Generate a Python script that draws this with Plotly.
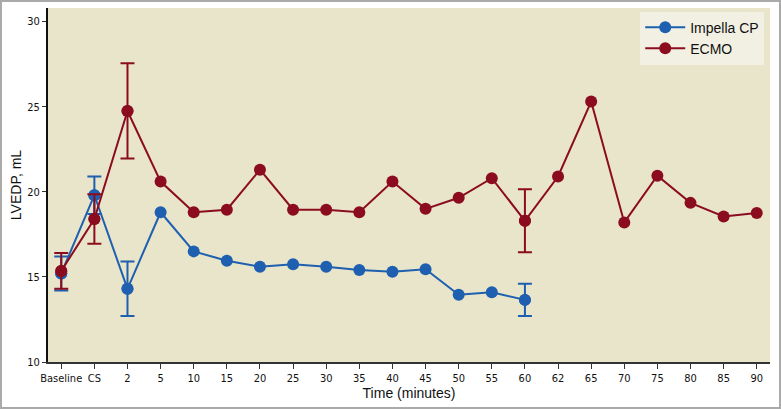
import plotly.graph_objects as go

categories = ["Baseline", "CS", "2", "5", "10", "15", "20", "25", "30", "35", "40",
              "45", "50", "55", "60", "62", "65", "70", "75", "80", "85", "90"]

impella_x = categories[:15]
impella_y = [15.2, 19.8, 14.3, 18.8, 16.5, 15.95, 15.6, 15.75, 15.6, 15.4, 15.3,
             15.45, 13.95, 14.1, 13.65]
impella_err = [1.0, 1.1, 1.6, None, None, None, None, None, None, None, None,
               None, None, None, 0.95]

ecmo_x = categories
ecmo_y = [15.35, 18.4, 24.75, 20.6, 18.8, 18.95, 21.3, 18.95, 18.95, 18.8, 20.6,
          19.0, 19.65, 20.8, 18.3, 20.9, 25.3, 18.2, 20.95, 19.35, 18.55, 18.75]
ecmo_err = [1.05, 1.45, 2.8, None, None, None, None, None, None, None, None,
            None, None, None, 1.85, None, None, None, None, None, None, None]

y_ticks = [10, 15, 20, 25, 30]

BLUE = "#1E5FB0"
RED = "#8C0C1F"
BG = "#E8E5CA"
TICK_FONT = "DejaVu Sans Condensed, sans-serif"
TEXT_FONT = "Liberation Sans, Arial, sans-serif"

fig = go.Figure()


def add_series(xs, ys, errs, name, color):
    ex = [x for x, e in zip(xs, errs) if e is not None]
    ey = [y for y, e in zip(ys, errs) if e is not None]
    ee = [e for e in errs if e is not None]
    fig.add_trace(go.Scatter(
        x=ex, y=ey, mode="markers", showlegend=False, hoverinfo="skip",
        marker=dict(color=color, size=12),
        error_y=dict(type="data", array=ee, visible=True, color=color,
                     thickness=2, width=7),
    ))
    fig.add_trace(go.Scatter(
        x=xs, y=ys, name=name, mode="lines+markers",
        line=dict(color=color, width=2), marker=dict(color=color, size=12),
    ))


add_series(impella_x, impella_y, impella_err, "Impella CP", BLUE)
add_series(ecmo_x, ecmo_y, ecmo_err, "ECMO", RED)

W, H = 781, 409
ml, mr, mt, mb = 48, 11, 8, 47
pw, ph = W - ml - mr, H - mt - mb

fig.update_layout(
    width=W, height=H,
    margin=dict(l=ml, r=mr, t=mt, b=mb, autoexpand=False),
    paper_bgcolor="white", plot_bgcolor=BG,
    showlegend=True,
    legend=dict(x=0.992, y=0.99, xanchor="right", yanchor="top",
                bgcolor="#F2F0E2", font=dict(family=TEXT_FONT, size=14, color="#111"),
                tracegroupgap=0, itemwidth=40),
    xaxis=dict(type="category", categoryorder="array", categoryarray=categories,
               range=[-0.4, 21.4], showgrid=False, zeroline=False, automargin=False,
               showline=True, linecolor="#333", linewidth=2, tickangle=0,
               ticks="outside", ticklen=5, tickcolor="#333", tickwidth=1,
               tickfont=dict(family=TICK_FONT, size=11, color="#111"),
               title=dict(text="Time (minutes)", font=dict(family=TEXT_FONT, size=14, color="#111"),
                          standoff=2)),
    yaxis=dict(range=[10, 30.8], tickvals=y_ticks, showgrid=False, zeroline=False,
               automargin=False,
               showline=True, linecolor="#111", linewidth=2,
               ticks="outside", ticklen=4, tickcolor="#333", tickwidth=1,
               tickfont=dict(family=TICK_FONT, size=11, color="#111"),
               title=dict(text="LVEDP, mL", font=dict(family=TEXT_FONT, size=14, color="#111"),
                          standoff=2)),
    shapes=[dict(type="rect", xref="paper", yref="paper",
                 x0=(-ml + 1) / pw, x1=1 + (mr - 1) / pw,
                 y0=(-mb + 1) / ph, y1=1 + (mt - 1) / ph,
                 line=dict(color="#AAAAAA", width=2), fillcolor="rgba(0,0,0,0)",
                 layer="below")],
)

fig.write_html("out.html", config={"displayModeBar": False},
               post_script="document.body.style.margin='0';document.body.style.overflow='hidden';")
